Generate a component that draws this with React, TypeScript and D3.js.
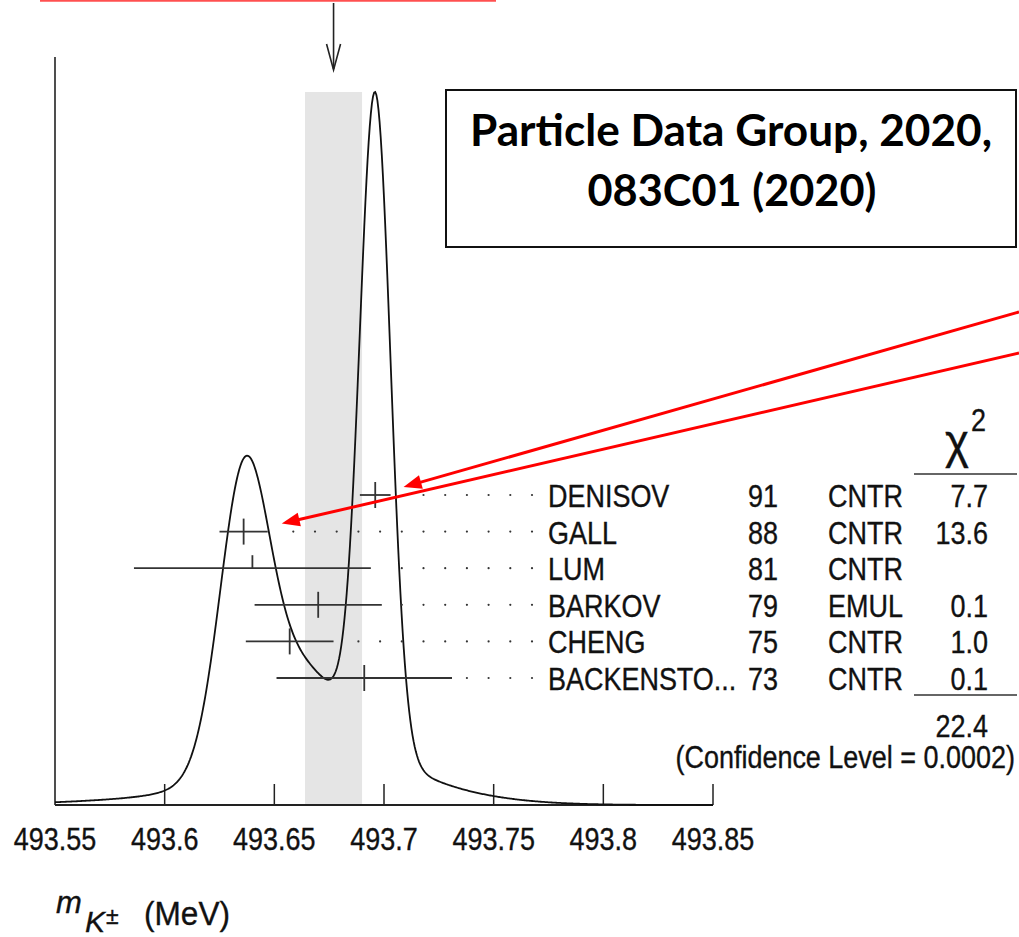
import React from "react";
import * as d3 from "d3";

// ---- Data (PDG 2020, K± mass measurements) ----
const names = ["DENISOV", "GALL", "LUM", "BARKOV", "CHENG", "BACKENSTO..."];
const years = ["91", "88", "81", "79", "75", "73"];
const techniques = ["CNTR", "CNTR", "CNTR", "EMUL", "CNTR", "CNTR"];
const values = [493.696, 493.636, 493.64, 493.67, 493.657, 493.691];
const errors = [0.007, 0.011, 0.054, 0.029, 0.02, 0.04];
const chi2 = ["7.7", "13.6", "", "0.1", "1.0", "0.1"];
const usedInAverage = [true, true, false, true, true, true];
const averageValue = 493.677;
const averageError = 0.013;
const chi2Total = "22.4";
const confidenceLevel = "0.0002";
const xTicks = [493.55, 493.6, 493.65, 493.7, 493.75, 493.8, 493.85];
const xTickLabels = ["493.55", "493.6", "493.65", "493.7", "493.75", "493.8", "493.85"];
const boxLines = ["Particle Data Group, 2020,", "083C01 (2020)"];

const W = 1019;
const H = 937;
const FONT = "'Liberation Sans', Arial, Helvetica, sans-serif";
const SX = 0.87;

function T(props: any) {
  const { x, y, size, anchor = "start", italic, children, sx = SX, family = FONT, weight } = props;
  return (
    <text
      transform={`translate(${x},${y}) scale(${sx},1)`}
      fontSize={size}
      textAnchor={anchor}
      fontFamily={family}
      fontStyle={italic ? "italic" : "normal"}
      fontWeight={weight || "normal"}
      fill="#111"
      stroke="#111"
      strokeWidth={0.35}
    >
      {children}
    </text>
  );
}

export default function App() {
  const x = d3.scaleLinear().domain([493.55, 493.85]).range([55, 713]);
  const baseY = 805;

  // PDG ideogram: each measurement a Gaussian with area proportional to 1/error
  const samples = d3.range(0, 601).map((i) => 493.55 + (i / 600) * 0.3);
  const ideo = samples.map((m) => {
    let s = 0;
    values.forEach((v, i) => {
      const e = errors[i];
      s += (1 / (e * e)) * Math.exp(-0.5 * ((m - v) / e) ** 2);
    });
    return [m, s] as [number, number];
  });
  const maxI = d3.max(ideo, (d) => d[1]) as number;
  const y = d3.scaleLinear().domain([0, maxI]).range([baseY, 92]);
  const linePath = d3
    .line<[number, number]>()
    .x((d) => x(d[0]))
    .y((d) => y(d[1]))(ideo) as string;

  const row = d3.scaleLinear().domain([0, names.length - 1]).range([495, 678]);

  const colName = 548;
  const colYear = 748;
  const colTech = 828;
  const colChi = 988;

  // dotted leaders
  const dotLast = 532;
  const dotStep = 21.7;

  const arrowHead = (x1: number, y1: number, x2: number, y2: number, len: number, hw: number) => {
    const dx = x2 - x1;
    const dy = y2 - y1;
    const L = Math.sqrt(dx * dx + dy * dy);
    const ux = dx / L;
    const uy = dy / L;
    const bx = x2 - ux * len;
    const by = y2 - uy * len;
    return `M${x2},${y2}L${bx - uy * hw},${by + ux * hw}L${bx + uy * hw},${by - ux * hw}Z`;
  };

  const xa = x(averageValue);
  const tip1 = [x(values[0] + errors[0]) + 13, row(0) - 8];
  const tip2 = [x(values[1] + errors[1]) + 14, row(1) - 8];
  const start1 = [W, 312];
  const start2 = [W, 353];

  return (
    <svg
      width={W}
      height={H}
      style={{ position: "absolute", left: 0, top: 0, background: "#fff" }}
    >
      <rect x={0} y={0} width={W} height={H} fill="#fff" />
      {/* red top line (cut box) */}
      <line x1={40} x2={496} y1={0.8} y2={0.8} stroke="#ff5050" strokeWidth={2} />

      {/* average band */}
      <rect
        x={x(averageValue - averageError)}
        y={92}
        width={x(averageValue + averageError) - x(averageValue - averageError)}
        height={baseY - 92}
        fill="#e5e5e5"
      />

      {/* average arrow */}
      <line x1={xa} x2={xa} y1={3} y2={69} stroke="#222" strokeWidth={1.6} />
      <path d={`M${xa - 7},${44}L${xa},${70}L${xa + 7},${44}`} fill="none" stroke="#222" strokeWidth={1.6} />

      {/* axes */}
      <line x1={55} x2={55} y1={57} y2={baseY} stroke="#222" strokeWidth={1.6} />
      <line x1={55} x2={713} y1={baseY} y2={baseY} stroke="#222" strokeWidth={2} />
      {xTicks.map((t, i) => (
        <g key={i}>
          {i > 0 && <line x1={x(t)} x2={x(t)} y1={baseY - 21} y2={baseY} stroke="#222" strokeWidth={1.5} />}
          <T x={x(t)} y={850} size={31} anchor="middle">
            {xTickLabels[i]}
          </T>
        </g>
      ))}

      {/* ideogram */}
      <path d={linePath} fill="none" stroke="#111" strokeWidth={1.8} />

      {/* measurements */}
      {values.map((v, i) => {
        const ry = row(i);
        const x0 = x(v - errors[i]);
        const x1 = x(v + errors[i]);
        const dots: number[] = [];
        for (let k = 0; k < 40; k++) {
          const dx = dotLast - k * dotStep;
          if (dx > x1 + 14) dots.push(dx);
        }
        return (
          <g key={i}>
            <line x1={x0} x2={x1} y1={ry} y2={ry} stroke="#333" strokeWidth={1.8} />
            <line
              x1={x(v)}
              x2={x(v)}
              y1={ry - 13}
              y2={usedInAverage[i] ? ry + 13 : ry}
              stroke="#333"
              strokeWidth={1.8}
            />
            {dots.map((d, j) => (
              <circle key={j} cx={d} cy={ry} r={1.1} fill="#333" />
            ))}
            <T x={colName} y={ry + 12} size={31}>
              {names[i]}
            </T>
            <T x={colYear} y={ry + 12} size={31}>
              {years[i]}
            </T>
            <T x={colTech} y={ry + 12} size={31}>
              {techniques[i]}
            </T>
            <T x={colChi} y={ry + 12} size={31} anchor="end">
              {chi2[i]}
            </T>
          </g>
        );
      })}

      {/* chi2 header */}
      <T x={945} y={458} size={48} sx={0.95}>
        χ
      </T>
      <T x={971} y={431} size={31}>
        2
      </T>
      <line x1={914} x2={1017} y1={474} y2={474} stroke="#333" strokeWidth={1.6} />
      <line x1={914} x2={1017} y1={695} y2={695} stroke="#333" strokeWidth={1.6} />
      <T x={colChi} y={737} size={31} anchor="end">
        {chi2Total}
      </T>
      <T x={1015} y={768} size={31} anchor="end">
        {`(Confidence Level = ${confidenceLevel})`}
      </T>

      {/* axis title */}
      <T x={56} y={913} size={31} italic sx={1}>
        m
      </T>
      <T x={85} y={932} size={30} italic sx={1}>
        K
      </T>
      <T x={106} y={924} size={23} sx={1}>
        ±
      </T>
      <T x={144} y={925} size={34} sx={0.93}>
        (MeV)
      </T>

      {/* annotation box */}
      <rect x={446} y={90} width={570} height={157} fill="#fff" stroke="#111" strokeWidth={2} />
      <text x={731} y={146} fontSize={43} fontWeight="bold" fontFamily="Lato, 'Open Sans', sans-serif" textAnchor="middle" textLength={522} lengthAdjust="spacingAndGlyphs" fill="#000">
        {boxLines[0]}
      </text>
      <text x={732} y={206} fontSize={43} fontWeight="bold" fontFamily="Lato, 'Open Sans', sans-serif" textAnchor="middle" textLength={289} lengthAdjust="spacingAndGlyphs" fill="#000">
        {boxLines[1]}
      </text>

      {/* red annotation arrows */}
      <line x1={start1[0]} y1={start1[1]} x2={tip1[0] + 12} y2={tip1[1] - 3.4} stroke="#ff0000" strokeWidth={3} />
      <path d={arrowHead(start1[0], start1[1], tip1[0], tip1[1], 18, 7)} fill="#ff0000" />
      <line x1={start2[0]} y1={start2[1]} x2={tip2[0] + 12} y2={tip2[1] - 2.8} stroke="#ff0000" strokeWidth={3} />
      <path d={arrowHead(start2[0], start2[1], tip2[0], tip2[1], 18, 7)} fill="#ff0000" />
    </svg>
  );
}
